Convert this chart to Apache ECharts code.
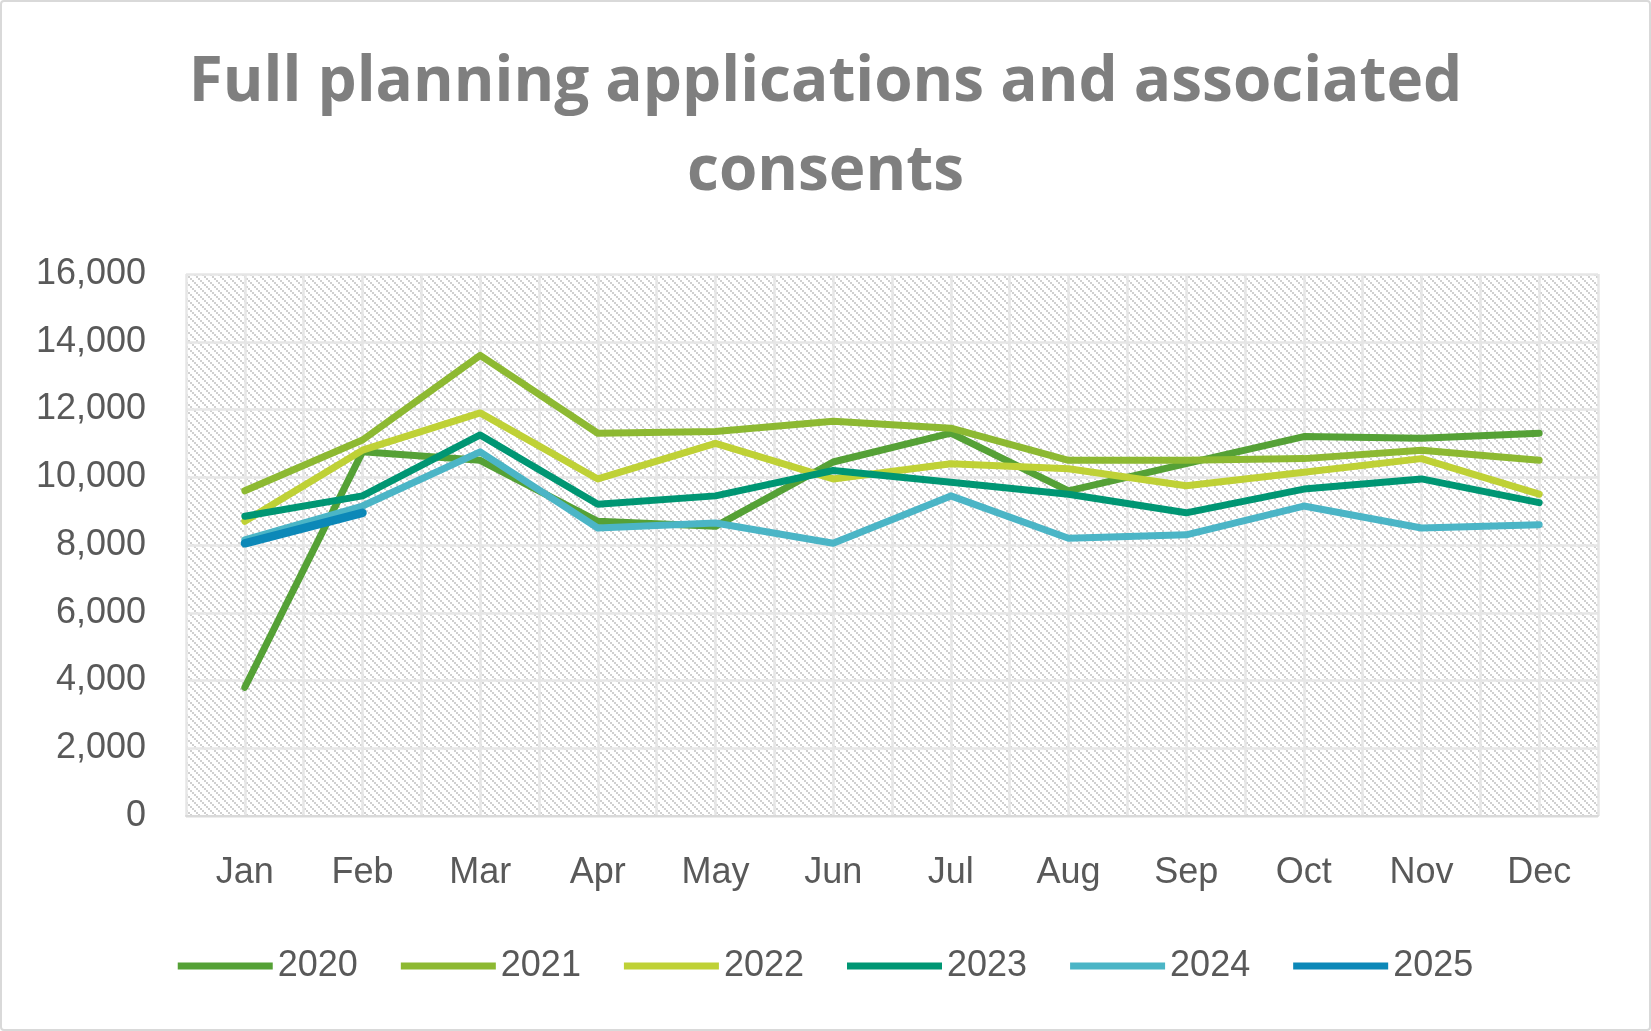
<!DOCTYPE html>
<html>
<head>
<meta charset="utf-8">
<script src="https://cdn.jsdelivr.net/npm/echarts@6/dist/echarts.min.js"></script>
<style>
html,body{margin:0;padding:0;background:#fff;}
#chart{width:1651px;height:1031px;box-sizing:border-box;border:2px solid #d9d9d9;border-radius:4px;}
</style>
</head>
<body>
<div id="chart"></div>
<script>
const titleLines = ['Full planning applications and associated', 'consents'];
const months = ['Jan','Feb','Mar','Apr','May','Jun','Jul','Aug','Sep','Oct','Nov','Dec'];
const years = ['2020','2021','2022','2023','2024','2025'];
const v2020 = [3800, 10750, 10500, 8700, 8550, 10450, 11300, 9600, 10400, 11200, 11150, 11300];
const v2021 = [9600, 11100, 13600, 11300, 11350, 11650, 11450, 10500, 10500, 10550, 10800, 10500];
const v2022 = [8700, 10800, 11900, 9950, 11000, 9950, 10400, 10250, 9750, 10150, 10550, 9500];
const v2023 = [8850, 9450, 11250, 9200, 9450, 10200, 9850, 9500, 8950, 9650, 9950, 9250];
const v2024 = [8150, 9150, 10750, 8500, 8650, 8050, 9450, 8200, 8300, 9150, 8500, 8600];
const v2025 = [8050, 8950];
const yTicks = {min: 0, max: 16000, interval: 2000};

const colors = ['#55A136', '#8DB932', '#BFD136', '#009673', '#4BB5C6', '#0C88B8'];
const widths = [7, 7, 7, 7, 7, 8.5];
const allValues = [v2020, v2021, v2022, v2023, v2024, v2025];

// hatch pattern (pixel blocks on a downward diagonal)
const P = 8;
const pc = document.createElement('canvas');
pc.width = P; pc.height = P;
const ctx = pc.getContext('2d');
ctx.fillStyle = '#ffffff';
ctx.fillRect(0, 0, P, P);
ctx.fillStyle = '#d0d0d0';
for (let k = 0; k < P; k += 2) ctx.fillRect(k, k, 2, 2);

const chart = echarts.init(document.getElementById('chart'));
const font = 'Liberation Sans, Arial, sans-serif';
const titleStyle = {fontFamily: 'Open Sans, sans-serif', fontWeight: 'bold', fontSize: 62, color: '#7f7f7f'};
chart.setOption({
  animation: false,
  title: [
    {text: titleLines[0], left: 'center', top: 45, textStyle: titleStyle},
    {text: titleLines[1], left: 'center', top: 134, textStyle: titleStyle}
  ],
  legend: {
    data: years,
    left: 'center',
    top: 941,
    icon: 'rect',
    itemWidth: 95,
    itemHeight: 7,
    itemGap: 43,
    textStyle: {fontFamily: font, fontSize: 36, color: '#595959'}
  },
  grid: {
    left: 184, right: 51, top: 272, bottom: 213,
    show: true,
    borderWidth: 0,
    backgroundColor: {image: pc, repeat: 'repeat'}
  },
  xAxis: [{
    type: 'category',
    data: months,
    boundaryGap: true,
    axisLine: {show: true, lineStyle: {color: '#d9d9d9', width: 2}},
    axisTick: {show: false},
    splitLine: {show: false},
    axisLabel: {fontFamily: font, fontSize: 36, color: '#595959', margin: 39}
  }, {
    type: 'value',
    min: -0.5, max: 11.5, interval: 0.5,
    show: true,
    position: 'bottom',
    axisLine: {show: false},
    axisTick: {show: false},
    axisLabel: {show: false},
    splitLine: {show: true, lineStyle: {color: '#e6e6e6', width: 2.5}}
  }],
  yAxis: {
    type: 'value',
    min: yTicks.min, max: yTicks.max, interval: yTicks.interval,
    axisLine: {show: false},
    axisTick: {show: false},
    splitLine: {show: true, lineStyle: {color: '#e6e6e6', width: 2.5}},
    axisLabel: {fontFamily: font, fontSize: 36, color: '#595959', margin: 40,
      formatter: v => v.toLocaleString('en-US')}
  },
  series: years.map((y, i) => ({
    name: y,
    type: 'line',
    xAxisIndex: 0,
    data: allValues[i],
    symbol: 'none',
    showSymbol: false,
    color: colors[i],
    lineStyle: {width: widths[i], color: colors[i], cap: 'round', join: 'round'},
    itemStyle: {color: colors[i]},
    z: 2 + i
  }))
});
</script>
</body>
</html>
